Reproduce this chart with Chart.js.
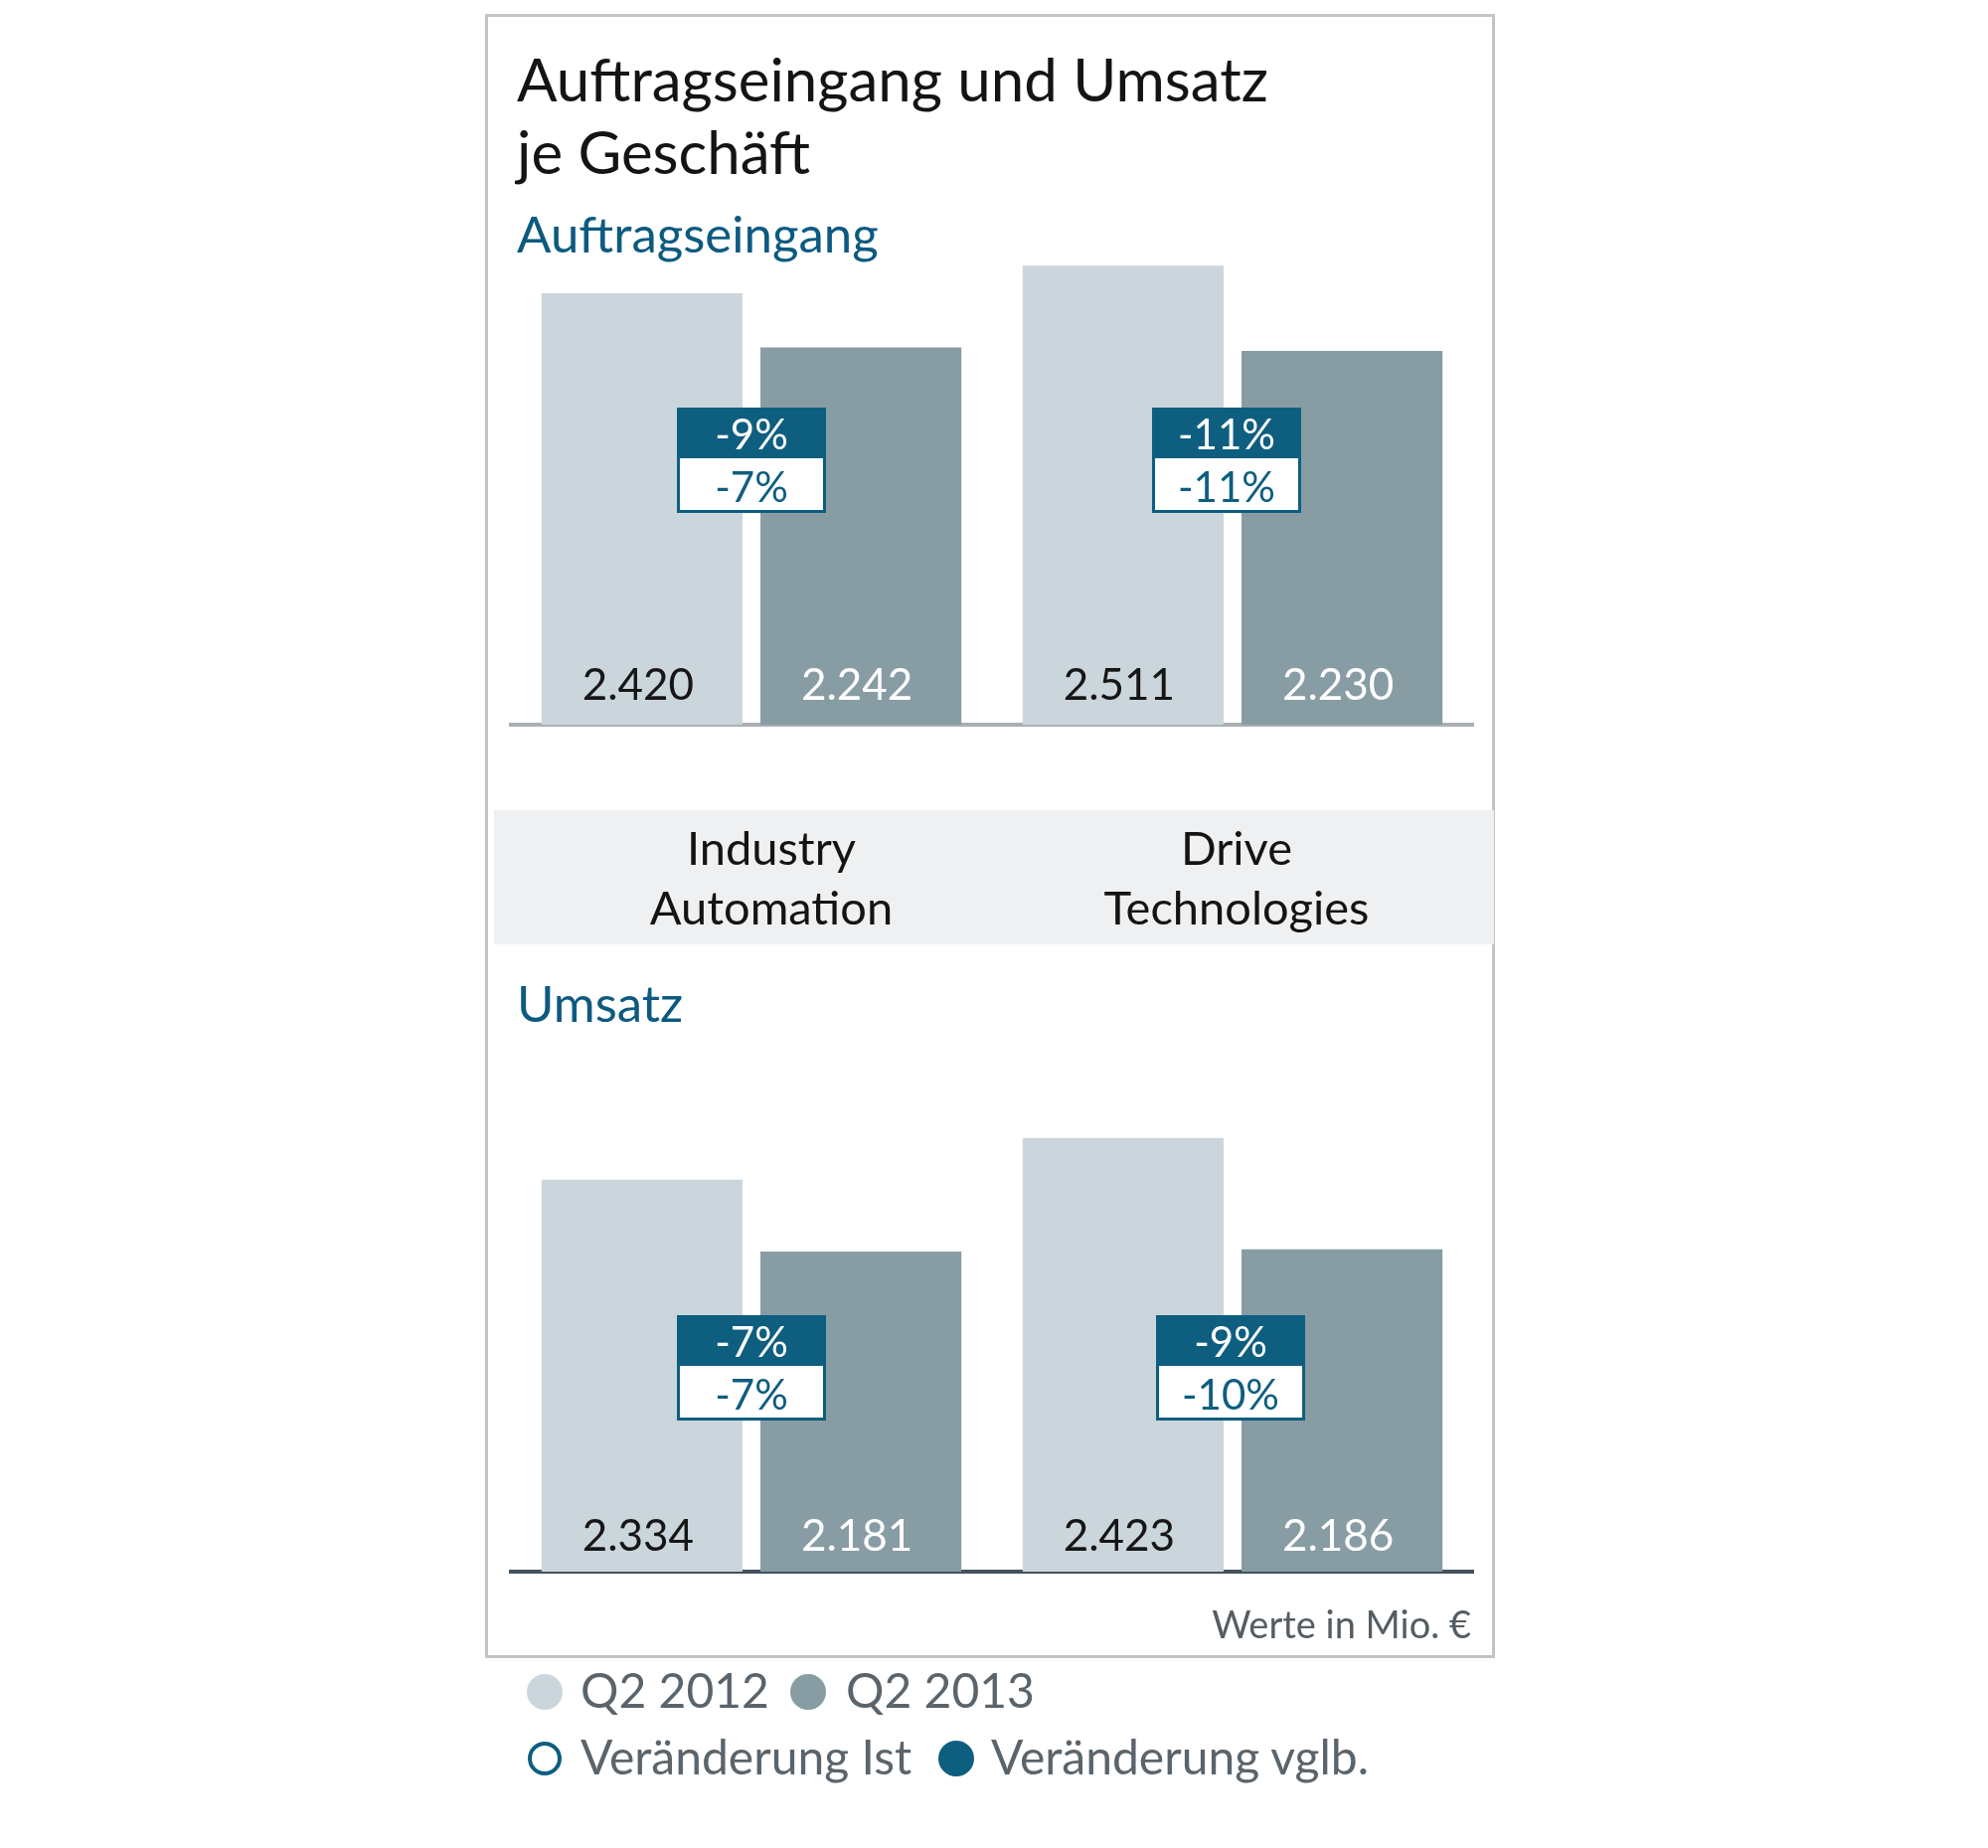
<!DOCTYPE html>
<html><head><meta charset="utf-8">
<script src="https://cdn.jsdelivr.net/npm/chart.js@4.4.0/dist/chart.umd.min.js"></script>
<style>
html,body{margin:0;padding:0;background:#fff;width:2000px;height:1859px;overflow:hidden;}
#frame{position:absolute;left:488px;top:14px;width:1010px;height:1648px;border:3px solid #c4c4c4;}
#band{position:absolute;left:497px;top:815px;width:1006px;height:135px;background:#eff0f1;}
canvas{position:absolute;left:0;top:0;}
.t{position:absolute;white-space:nowrap;font-family:Lato,"Open Sans",sans-serif;line-height:1;}
.dot{position:absolute;border-radius:50%;box-sizing:border-box;}
</style></head>
<body>
<div id="frame"></div><div id="band"></div>
<canvas id="c1" width="2000" height="1859"></canvas>
<canvas id="c2" width="2000" height="1859"></canvas>
<div id="texts"></div>
<script>
// ---- data ----
const categories = [['Industry','Automation'],['Drive','Technologies']];
const seriesNames = ['Q2 2012','Q2 2013'];
const orders2012 = [2420, 2511];
const orders2013 = [2242, 2230];
const sales2012 = [2334, 2423];
const sales2013 = [2181, 2186];
const ordersChangeVglb = ['-9%','-11%'];
const ordersChangeIst = ['-7%','-11%'];
const salesChangeVglb = ['-7%','-9%'];
const salesChangeIst = ['-7%','-10%'];
const changeNames = ['Veränderung Ist','Veränderung vglb.'];
const titleLines = ['Auftragseingang und Umsatz','je Geschäft'];
const panelTitles = ['Auftragseingang','Umsatz'];
const footnote = 'Werte in Mio. €';

// ---- styles ----
const FONT = 'Lato, "Open Sans", sans-serif';
const C_LIGHT = '#cbd6dc', C_DARK = '#889ca4', C_BLUE = '#0e5e80';
const fmt = v => String(v).replace(/\B(?=(\d{3})+(?!\d))/g, '.');

const annot = {
  id: 'annot',
  afterDraw(chart, args, o) {
    const ctx = chart.ctx, x = chart.scales.x, y = chart.scales.y, ca = chart.chartArea;
    ctx.save();
    // value labels
    ctx.font = o.valueSize + 'px ' + FONT;
    ctx.textAlign = 'center'; ctx.textBaseline = 'alphabetic';
    chart.data.datasets.forEach((ds, di) => {
      chart.getDatasetMeta(di).data.forEach((el, i) => {
        ctx.fillStyle = di === 0 ? '#161616' : '#ffffff';
        ctx.fillText(fmt(ds.data[i]), el.x - 4, ca.bottom - o.valueOffset);
      });
    });
    // change boxes
    const w = 150, hTop = 51, h = 106;
    ctx.font = o.pctSize + 'px ' + FONT;
    o.vglb.forEach((txt, i) => {
      const cx = x.getPixelForValue(i) + o.boxShift[i];
      const top = Math.round(y.getPixelForValue(o.boxValue));
      ctx.fillStyle = '#ffffff'; ctx.fillRect(cx - w/2, top, w, h);
      ctx.fillStyle = C_BLUE; ctx.fillRect(cx - w/2, top, w, hTop);
      ctx.strokeStyle = C_BLUE; ctx.lineWidth = 3;
      ctx.strokeRect(cx - w/2 + 1.5, top + 1.5, w - 3, h - 3);
      ctx.fillStyle = '#ffffff';
      ctx.fillText(txt, cx, top + 27 + o.pctSize*0.36);
      ctx.fillStyle = C_BLUE;
      ctx.fillText(o.ist[i], cx, top + 80 + o.pctSize*0.36);
    });
    ctx.restore();
  }
};

function makeChart(id, d12, d13, vglb, ist, yMin, yMax, pad, axisColor, valueOffset, boxShift) {
  return new Chart(document.getElementById(id), {
    type: 'bar',
    data: {
      labels: categories.map(c => c.join(' ')),
      datasets: [
        {label: seriesNames[0], data: d12, backgroundColor: C_LIGHT, barPercentage: 0.918, categoryPercentage: 0.91},
        {label: seriesNames[1], data: d13, backgroundColor: C_DARK, barPercentage: 0.918, categoryPercentage: 0.91}
      ]
    },
    options: {
      responsive: false, animation: false, devicePixelRatio: 1,
      layout: {padding: pad},
      scales: {
        x: {offset: true, z: 1, grid: {display: false}, ticks: {display: false},
            border: {display: true, color: axisColor, width: 4},
            afterFit: s => { s.height = 0; }},
        y: {display: false, min: yMin, max: yMax}
      },
      plugins: {
        legend: {display: false}, tooltip: {enabled: false},
        annot: {vglb, ist, boxValue: 2045, valueSize: 44, pctSize: 42, valueOffset, boxShift}
      }
    },
    plugins: [annot]
  });
}

makeChart('c1', orders2012, orders2013, ordersChangeVglb, ordersChangeIst, 1000, 2600,
  {left: 514, right: 518, top: 240, bottom: 1130}, '#a9b0b4', 25, [0, -6]);
const ch2 = makeChart('c2', sales2012, sales2013, salesChangeVglb, salesChangeIst, 1500, 2600,
  {left: 514, right: 518, top: 1061, bottom: 278}, '#44525f', 21, [0, -2]);

// ---- HTML texts ----
const host = document.getElementById('texts');
function addText(str, x, baseline, size, color, align, weight) {
  const d = document.createElement('div');
  d.className = 't'; d.textContent = str;
  d.style.fontSize = size + 'px'; d.style.color = color; d.style.fontWeight = weight || 400;
  d.style.top = (baseline - 0.887 * size) + 'px';
  if (align === 'center') { d.style.left = x + 'px'; d.style.transform = 'translateX(-50%)'; }
  else if (align === 'right') { d.style.right = (2000 - x) + 'px'; }
  else d.style.left = x + 'px';
  host.appendChild(d);
}
function addDot(cx, cy, r, fill, stroke) {
  const d = document.createElement('div'); d.className = 'dot';
  d.style.left = (cx - r) + 'px'; d.style.top = (cy - r) + 'px';
  d.style.width = d.style.height = (2*r) + 'px';
  d.style.background = fill;
  if (stroke) d.style.border = '4px solid ' + stroke;
  host.appendChild(d);
}
addText(titleLines[0], 520, 102, 60, '#141414', 'left');
addText(titleLines[1], 520, 175, 60, '#141414', 'left');
addText(panelTitles[0], 520, 254, 51, '#0d5a80', 'left');
addText(panelTitles[1], 520, 1028, 51, '#0d5a80', 'left');
const xs = ch2.scales.x;
const labelShift = [20, 4];
categories.forEach((c, i) => {
  const cx = xs.getPixelForValue(i) + labelShift[i];
  addText(c[0], cx, 871, 47, '#141414', 'center');
  addText(c[1], cx, 931, 47, '#141414', 'center');
});
addText(footnote, 1480, 1648, 38, '#555d63', 'right');
addDot(548, 1702, 18, C_LIGHT);
addText(seriesNames[0], 584, 1719, 48, '#5b646b', 'left');
addDot(813, 1702, 18, C_DARK);
addText(seriesNames[1], 851, 1719, 48, '#5b646b', 'left');
addDot(548, 1769, 17, '#ffffff', C_BLUE);
addText(changeNames[0], 584, 1786, 48, '#5b646b', 'left');
addDot(962, 1769, 18, C_BLUE);
addText(changeNames[1], 997, 1786, 48, '#5b646b', 'left');
</script>
</body></html>
